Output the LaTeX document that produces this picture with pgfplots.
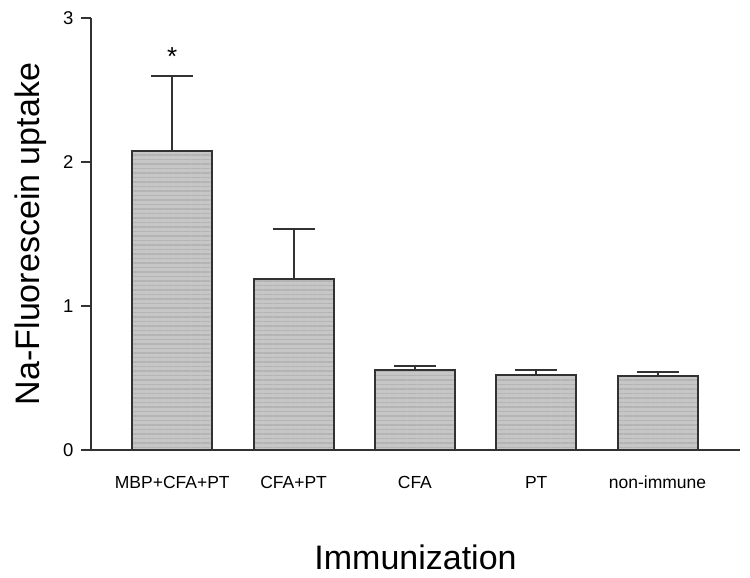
\documentclass[border=0pt]{standalone}
\usepackage{pgfplots}
\pgfplotsset{compat=1.18}
\usepackage{fontspec}
\setmainfont{Liberation Sans}
\usetikzlibrary{patterns.meta}
\definecolor{barfill}{RGB}{198,198,198}
\definecolor{hatch}{RGB}{180,180,180}
\definecolor{ink}{RGB}{50,50,50}
\begin{document}
\begin{tikzpicture}
\begin{axis}[
  scale only axis, width=649pt, height=432pt,
  xmin=-0.67, xmax=4.68, ymin=0, ymax=3,
  axis x line=bottom, axis y line=left,
  axis line style={-, line width=2pt, color=ink},
  xtick={0,1,2,3,4},
  xticklabels={MBP+CFA+PT, CFA+PT, CFA, PT, non-immune},
  major x tick style={draw=none},
  ytick={0,1,2,3},
  tick align=outside, major tick length=10pt,
  major y tick style={line width=2pt, color=ink},
  /pgf/number format/assume math mode=true,
  xticklabel style={font=\fontsize{17.5}{20}\selectfont, anchor=base, yshift=-28pt},
  yticklabel style={font=\fontsize{18.5}{22}\selectfont, anchor=east, xshift=-4pt},
  xlabel={Immunization}, ylabel={Na-Fluorescein uptake},
  every axis x label/.style={at={(axis description cs:0.5,-0.2477)}, anchor=center, font=\fontsize{34}{40}\selectfont},
  every axis y label/.style={at={(axis description cs:-0.0925,0.5)}, rotate=90, anchor=center, font=\fontsize{34}{40}\selectfont},
  clip=false,
]
\addplot[ybar, bar width=80pt, draw=ink, line width=2pt, fill=barfill,
  postaction={pattern={Lines[angle=0, distance=4.5pt, line width=1.4pt]}, pattern color=hatch},
  error bars/.cd, y dir=plus, y explicit,
  error mark=|,
  error bar style={line width=2pt, color=ink},
  error mark options={line width=2pt, mark size=21pt, color=ink}]
  coordinates {
  (0,2.078) +- (0,0.519)
  (1,1.188) +- (0,0.347)
  (2,0.556) +- (0,0.027)
  (3,0.518) +- (0,0.038)
  (4,0.516) +- (0,0.026)
  };
\addplot[draw=none, mark=none, nodes near coords, point meta=explicit symbolic,
  every node near coord/.append style={anchor=center, font=\fontsize{26}{30}\selectfont}]
  coordinates {(0,2.735) [*]};
\end{axis}
\pgfresetboundingbox
\path ([shift={(-91pt,-128pt)}]current axis.south west) rectangle ([shift={(10pt,18pt)}]current axis.north east);
\end{tikzpicture}
\end{document}
